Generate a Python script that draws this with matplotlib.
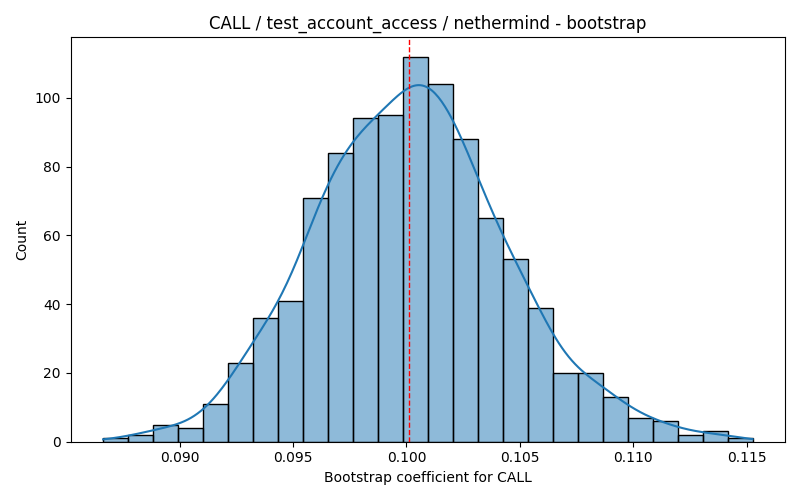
import numpy as np
import matplotlib
matplotlib.use("Agg")
import matplotlib.pyplot as plt

# Data
bin_start = 0.08662
bin_end = 0.115264
counts = [1, 2, 5, 4, 11, 23, 36, 41, 71, 84, 94, 95, 112, 104, 88, 65, 53, 39,
          20, 20, 13, 7, 6, 2, 3, 1]
ref_line = 0.10011
title = "CALL / test_account_access / nethermind - bootstrap"
xlabel = "Bootstrap coefficient for CALL"
ylabel = "Count"

edges = np.linspace(bin_start, bin_end, len(counts) + 1)
centers = (edges[:-1] + edges[1:]) / 2
counts = np.array(counts, dtype=float)
width = edges[1] - edges[0]

fig, ax = plt.subplots(figsize=(8, 5), dpi=100)
ax.bar(edges[:-1], counts, width=width, align="edge", color=(0.1216, 0.4667, 0.7059, 0.5),
       edgecolor="black", linewidth=1)

# weighted gaussian KDE (Scott's rule)
n = counts.sum()
mean = np.sum(centers * counts) / n
var = np.sum(counts * (centers - mean) ** 2) / n
sd = np.sqrt(var - width ** 2 / 12)
bw = sd * n ** (-1 / 5)
xs = np.linspace(bin_start, bin_end, 400)
dens = np.sum(counts[None, :] * np.exp(-0.5 * ((xs[:, None] - centers[None, :]) / bw) ** 2), axis=1)
dens /= (n * bw * np.sqrt(2 * np.pi))
ax.plot(xs, dens * n * width, color="#1f77b4", linewidth=1.5)

ax.axvline(ref_line, color="red", linestyle="--", linewidth=1)
ax.set_title(title)
ax.set_xlabel(xlabel)
ax.set_ylabel(ylabel)
ax.set_xticks([0.090, 0.095, 0.100, 0.105, 0.110, 0.115])
fig.tight_layout()
fig.savefig("out.png")
